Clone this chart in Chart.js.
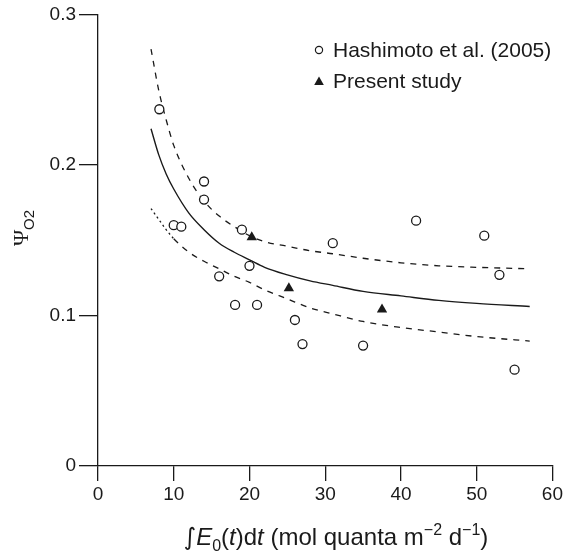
<!DOCTYPE html>
<html lang="en">
<head>
    <meta charset="UTF-8">
    <title>Psi O2 vs daily light</title>
    <style>
        html, body { margin: 0; padding: 0; background: #fff; }
        #wrap { width: 565px; height: 553px; }
    </style>
</head>
<body>
    <div id="wrap"><canvas id="psiChart" width="565" height="553"></canvas></div>

    <script src="https://cdn.jsdelivr.net/npm/chart.js"></script>
    <script>
        // Hashimoto et al. (2005) - open circles
        const hashiX = [8.1, 10.0, 11.0, 14.0, 14.0, 16.0, 18.1, 19.0, 20.0, 21.0, 26.0, 27.0, 31.0, 35.0, 42.0, 51.0, 53.0, 55.0];
        const hashiY = [0.237, 0.160, 0.159, 0.189, 0.177, 0.126, 0.107, 0.157, 0.133, 0.107, 0.097, 0.081, 0.148, 0.080, 0.163, 0.153, 0.127, 0.064];

        // present study - filled triangles
        const presentX = [20.3, 25.2, 37.5];
        const presentY = [0.152, 0.118, 0.104];

        // fitted curve and the two dashed bounds
        const curveX = [7, 8, 9, 10, 12, 14, 16, 18, 20, 22, 25, 28, 31, 35, 40, 45, 50, 57];
        const fitY   = [0.224, 0.207, 0.194, 0.184, 0.168, 0.157, 0.148, 0.142, 0.137, 0.132, 0.127, 0.123, 0.120, 0.116, 0.113, 0.110, 0.108, 0.106];
        const upperY = [0.277, 0.250, 0.230, 0.213, 0.191, 0.176, 0.166, 0.159, 0.153, 0.149, 0.146, 0.143, 0.141, 0.138, 0.135, 0.133, 0.132, 0.131];
        const lowerY = [0.171, 0.164, 0.157, 0.151, 0.142, 0.136, 0.131, 0.126, 0.122, 0.117, 0.111, 0.105, 0.101, 0.096, 0.092, 0.089, 0.086, 0.083];

        const xTicks = [0, 10, 20, 30, 40, 50, 60];
        const yTicks = [0, 0.1, 0.2, 0.3];

        const INK = '#1a1a1a';
        const SANS = '"Liberation Sans", Arial, Helvetica, sans-serif';

        function pts(xs, ys) {
            return xs.map((x, i) => ({ x: x, y: ys[i] }));
        }

        // text runs [{t, font, dy}] drawn left to right
        function runWidth(ctx, runs) {
            let w = 0;
            runs.forEach(r => { ctx.font = r.font; w += ctx.measureText(r.t).width; });
            return w;
        }
        function drawRuns(ctx, runs, x, y) {
            runs.forEach(r => {
                ctx.font = r.font;
                ctx.fillText(r.t, x, y + (r.dy || 0));
                x += ctx.measureText(r.t).width;
            });
        }

        const decor = {
            id: 'decor',
            afterDraw(chart) {
                const ctx = chart.ctx;
                ctx.save();
                ctx.fillStyle = INK;
                ctx.strokeStyle = INK;
                ctx.textAlign = 'left';

                // legend
                ctx.lineWidth = 1.2;
                ctx.beginPath();
                ctx.arc(319, 50, 3.6, 0, Math.PI * 2);
                ctx.fillStyle = '#fff';
                ctx.fill();
                ctx.stroke();
                ctx.fillStyle = INK;
                ctx.beginPath();
                ctx.moveTo(319, 76.5);
                ctx.lineTo(323.8, 85);
                ctx.lineTo(314.2, 85);
                ctx.closePath();
                ctx.fill();
                ctx.font = '21px ' + SANS;
                ctx.textBaseline = 'middle';
                ctx.fillText('Hashimoto et al. (2005)', 333, 51);
                ctx.fillText('Present study', 333, 82);
                ctx.textBaseline = 'alphabetic';

                // x axis title
                const big = '24px ' + SANS;
                const ital = 'italic 24px ' + SANS;
                const small = '16px ' + SANS;
                const xRuns = [
                    { t: '\u222B', font: '24px "DejaVu Sans", sans-serif' },
                    { t: 'E', font: ital },
                    { t: '0', font: small, dy: 6 },
                    { t: '(', font: big },
                    { t: 't', font: ital },
                    { t: ')d', font: big },
                    { t: 't', font: ital },
                    { t: ' (mol quanta m', font: big },
                    { t: '\u22122', font: small, dy: -10 },
                    { t: ' d', font: big },
                    { t: '\u22121', font: small, dy: -10 },
                    { t: ')', font: big }
                ];
                const w = runWidth(ctx, xRuns);
                drawRuns(ctx, xRuns, 336 - w / 2, 545);

                // y axis title, rotated
                ctx.translate(20, 228);
                ctx.rotate(-Math.PI / 2);
                const yRuns = [
                    { t: '\u03A8', font: '22px "Liberation Serif", "Times New Roman", serif' },
                    { t: 'O2', font: '15px ' + SANS, dy: 6 }
                ];
                const wy = runWidth(ctx, yRuns);
                drawRuns(ctx, yRuns, -wy / 2, 8);
                ctx.restore();
            }
        };

        const ctx = document.getElementById('psiChart').getContext('2d');
        new Chart(ctx, {
            type: 'scatter',
            data: {
                datasets: [
                    {
                        label: 'Hashimoto et al. (2005)',
                        data: pts(hashiX, hashiY),
                        pointStyle: 'circle',
                        pointRadius: 4.5,
                        backgroundColor: '#fff',
                        borderColor: INK,
                        borderWidth: 1.3
                    },
                    {
                        label: 'Present study',
                        data: pts(presentX, presentY),
                        pointStyle: 'triangle',
                        pointRadius: 6,
                        backgroundColor: INK,
                        borderColor: INK,
                        borderWidth: 0
                    },
                    {
                        type: 'line',
                        label: 'fit',
                        data: pts(curveX, fitY),
                        borderColor: INK,
                        borderWidth: 1.4,
                        pointRadius: 0,
                        cubicInterpolationMode: 'monotone',
                        fill: false
                    },
                    {
                        type: 'line',
                        label: 'upper',
                        data: pts(curveX, upperY),
                        borderColor: INK,
                        borderWidth: 1.3,
                        borderDash: [6, 6],
                        pointRadius: 0,
                        cubicInterpolationMode: 'monotone',
                        fill: false
                    },
                    {
                        type: 'line',
                        label: 'lower',
                        data: pts(curveX, lowerY),
                        borderColor: INK,
                        borderWidth: 1.3,
                        pointRadius: 0,
                        cubicInterpolationMode: 'monotone',
                        fill: false,
                        segment: {
                            borderDash: c => c.p0.parsed.x < 10 ? [2, 3] : [6, 6]
                        }
                    }
                ]
            },
            options: {
                responsive: false,
                animation: false,
                layout: { padding: { left: 0, top: 14, right: 12, bottom: 0 } },
                plugins: {
                    legend: { display: false },
                    tooltip: { enabled: false }
                },
                scales: {
                    x: {
                        type: 'linear',
                        min: 0,
                        max: 60,
                        afterFit: s => { s.height = 87; },
                        afterBuildTicks: s => { s.ticks = xTicks.map(v => ({ value: v })); },
                        ticks: {
                            color: INK,
                            font: { family: SANS, size: 19 },
                            padding: 2,
                            maxRotation: 0
                        },
                        grid: { drawOnChartArea: false, drawTicks: true, tickLength: 15, color: INK, lineWidth: 1.3 },
                        border: { display: true, color: INK, width: 1.3 }
                    },
                    y: {
                        type: 'linear',
                        min: 0,
                        max: 0.3,
                        afterFit: s => { s.width = 98; },
                        afterBuildTicks: s => { s.ticks = yTicks.map(v => ({ value: v })); },
                        ticks: {
                            color: INK,
                            font: { family: SANS, size: 19 },
                            padding: 3,
                            callback: v => v === 0 ? '0' : v.toFixed(1)
                        },
                        grid: { drawOnChartArea: false, drawTicks: true, tickLength: 19, color: INK, lineWidth: 1.3 },
                        border: { display: true, color: INK, width: 1.3 }
                    }
                }
            },
            plugins: [decor]
        });
    </script>
</body>
</html>
